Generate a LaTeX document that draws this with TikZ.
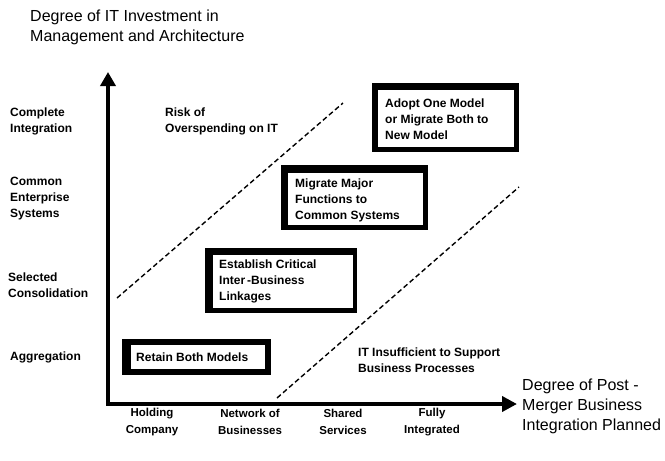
\documentclass[tikz,border=0pt]{standalone}
\usepackage{fontspec}
\setmainfont{Liberation Sans}
\usetikzlibrary{arrows.meta}
\tikzset{
  lbl/.style={font=\fontsize{12}{16}\selectfont\bfseries, align=left, inner sep=0pt},
  ctrlbl/.style={font=\fontsize{11.5}{17}\selectfont\bfseries, align=center, inner sep=0pt},
  big/.style={font=\fontsize{16}{20}\selectfont, align=left, inner sep=0pt},
  axis/.style={line width=4pt},
  sep/.style={line width=1.4pt, dash pattern=on 5pt off 3pt},
  boxtxt/.style={font=\fontsize{12}{16}\selectfont\bfseries, align=left, inner sep=0pt, anchor=west}
}
\begin{document}
\begin{tikzpicture}[x=1pt,y=-1pt]
\useasboundingbox[fill=white] (0,0) rectangle (665,461);
% axes
\coordinate (O) at (108,404);
\coordinate (ytop) at (108,72);
\coordinate (xend) at (517,404);
\draw[axis,-{Triangle[width=15pt,length=14pt]}] ([yshift=2pt]O) -- (ytop);
\draw[axis,-{Triangle[width=15pt,length=15pt]}] ([xshift=-2pt]O) -- (xend);
% titles
\node[big,anchor=west] (ttl) at (30,27) {Degree of IT Investment in\\Management and Architecture};
\node[big,anchor=west] (xttl) at (522,406) {Degree of Post -\\Merger Business\\Integration Planned};
% y labels
\node[lbl,anchor=west] (l1) at (10,121) {Complete\\Integration};
\node[lbl,anchor=west] (l2) at (10,199) {Common\\Enterprise\\Systems};
\node[lbl,anchor=west] (l3) at (8,285) {Selected\\Consolidation};
\node[lbl,anchor=west] (l4) at (10,357) {Aggregation};
% x labels
\node[ctrlbl] (b1) at (152,422) {Holding\\Company};
\node[ctrlbl] (b2) at (250,422) {Network of\\Businesses};
\node[ctrlbl] (b3) at (343,422) {Shared\\Services};
\node[ctrlbl] (b4) at (432,422) {Fully\\Integrated};
% region labels
\node[lbl,anchor=west] (risk) at (165,121) {Risk of\\Overspending on IT};
\node[lbl,anchor=west] (insuf) at (358,360) {IT Insufficient to Support\\Business Processes};
% dashed boundaries
\coordinate (u1) at (117,298);
\coordinate (u2) at (343,103);
\coordinate (d1) at (277,398);
\coordinate (d2) at (519,187);
\draw[sep] (u1) -- (u2);
\draw[sep] (d1) -- (d2);
% boxes
\fill (122,339) rectangle (271,375);
\fill[white] (131,345) rectangle (265,369);
\node[boxtxt] (bx1) at (136,357) {Retain Both Models};
\fill (205,248) rectangle (357,313);
\fill[white] (213,255) rectangle (353,308);
\node[boxtxt] (bx2) at (219,281) {Establish Critical\\Inter\,-Business\\Linkages};
\fill (281,165) rectangle (428,230);
\fill[white] (288,173) rectangle (423,225);
\node[boxtxt] (bx3) at (295,200) {Migrate Major\\Functions to\\Common Systems};
\fill (372,83) rectangle (519,152);
\fill[white] (378,90) rectangle (514,147);
\node[boxtxt] (bx4) at (385,119) {Adopt One Model\\or Migrate Both to\\New Model};
\end{tikzpicture}
\end{document}
